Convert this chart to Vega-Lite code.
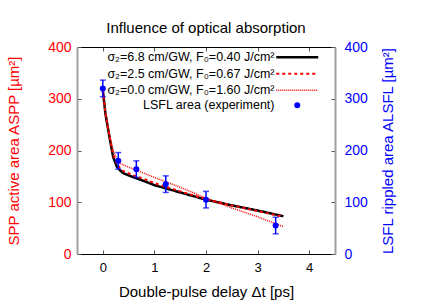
{
  "$schema": "https://vega.github.io/schema/vega-lite/v6.json",
  "width": 258,
  "height": 207,
  "autosize": "none",
  "padding": {"left": 77, "top": 47, "right": 101, "bottom": 51},
  "title": {"text": "Influence of optical absorption", "fontSize": 15, "fontWeight": "normal", "font": "Liberation Sans", "offset": 4, "color": "black"},
  "config": {
    "font": "Liberation Sans",
    "view": {"stroke": null},
    "axis": {"grid": false, "tickSize": -4, "tickColor": "#555", "titleFontWeight": "normal", "labelFont": "Liberation Sans", "titleFont": "Liberation Sans"},
    "legend": {"padding": 0}
  },
  "datasets": {
    "curves": [
      {"series": "σ₂=6.8 cm/GW, F₀=0.40 J/cm²", "x": 0, "y": 317},
      {"series": "σ₂=6.8 cm/GW, F₀=0.40 J/cm²", "x": 0.05, "y": 272},
      {"series": "σ₂=6.8 cm/GW, F₀=0.40 J/cm²", "x": 0.1, "y": 243},
      {"series": "σ₂=6.8 cm/GW, F₀=0.40 J/cm²", "x": 0.14, "y": 220},
      {"series": "σ₂=6.8 cm/GW, F₀=0.40 J/cm²", "x": 0.2, "y": 188},
      {"series": "σ₂=6.8 cm/GW, F₀=0.40 J/cm²", "x": 0.27, "y": 169},
      {"series": "σ₂=6.8 cm/GW, F₀=0.40 J/cm²", "x": 0.33, "y": 162},
      {"series": "σ₂=6.8 cm/GW, F₀=0.40 J/cm²", "x": 0.4, "y": 156},
      {"series": "σ₂=6.8 cm/GW, F₀=0.40 J/cm²", "x": 0.6, "y": 148},
      {"series": "σ₂=6.8 cm/GW, F₀=0.40 J/cm²", "x": 0.8, "y": 141},
      {"series": "σ₂=6.8 cm/GW, F₀=0.40 J/cm²", "x": 1.0, "y": 133},
      {"series": "σ₂=6.8 cm/GW, F₀=0.40 J/cm²", "x": 1.5, "y": 119},
      {"series": "σ₂=6.8 cm/GW, F₀=0.40 J/cm²", "x": 2.0, "y": 105},
      {"series": "σ₂=6.8 cm/GW, F₀=0.40 J/cm²", "x": 2.5, "y": 94},
      {"series": "σ₂=6.8 cm/GW, F₀=0.40 J/cm²", "x": 3.0, "y": 84},
      {"series": "σ₂=6.8 cm/GW, F₀=0.40 J/cm²", "x": 3.5, "y": 73},
      {"series": "σ₂=2.5 cm/GW, F₀=0.67 J/cm²", "x": 0, "y": 317},
      {"series": "σ₂=2.5 cm/GW, F₀=0.67 J/cm²", "x": 0.05, "y": 272},
      {"series": "σ₂=2.5 cm/GW, F₀=0.67 J/cm²", "x": 0.1, "y": 243},
      {"series": "σ₂=2.5 cm/GW, F₀=0.67 J/cm²", "x": 0.14, "y": 222},
      {"series": "σ₂=2.5 cm/GW, F₀=0.67 J/cm²", "x": 0.2, "y": 192},
      {"series": "σ₂=2.5 cm/GW, F₀=0.67 J/cm²", "x": 0.27, "y": 175},
      {"series": "σ₂=2.5 cm/GW, F₀=0.67 J/cm²", "x": 0.33, "y": 166},
      {"series": "σ₂=2.5 cm/GW, F₀=0.67 J/cm²", "x": 0.4, "y": 160},
      {"series": "σ₂=2.5 cm/GW, F₀=0.67 J/cm²", "x": 0.6, "y": 152},
      {"series": "σ₂=2.5 cm/GW, F₀=0.67 J/cm²", "x": 0.8, "y": 145},
      {"series": "σ₂=2.5 cm/GW, F₀=0.67 J/cm²", "x": 1.0, "y": 137},
      {"series": "σ₂=2.5 cm/GW, F₀=0.67 J/cm²", "x": 1.5, "y": 121},
      {"series": "σ₂=2.5 cm/GW, F₀=0.67 J/cm²", "x": 2.0, "y": 106},
      {"series": "σ₂=2.5 cm/GW, F₀=0.67 J/cm²", "x": 2.5, "y": 94},
      {"series": "σ₂=2.5 cm/GW, F₀=0.67 J/cm²", "x": 3.0, "y": 83},
      {"series": "σ₂=2.5 cm/GW, F₀=0.67 J/cm²", "x": 3.5, "y": 72},
      {"series": "σ₂=0.0 cm/GW, F₀=1.60 J/cm²", "x": 0, "y": 317},
      {"series": "σ₂=0.0 cm/GW, F₀=1.60 J/cm²", "x": 0.05, "y": 275},
      {"series": "σ₂=0.0 cm/GW, F₀=1.60 J/cm²", "x": 0.1, "y": 246},
      {"series": "σ₂=0.0 cm/GW, F₀=1.60 J/cm²", "x": 0.14, "y": 225},
      {"series": "σ₂=0.0 cm/GW, F₀=1.60 J/cm²", "x": 0.2, "y": 200},
      {"series": "σ₂=0.0 cm/GW, F₀=1.60 J/cm²", "x": 0.27, "y": 184},
      {"series": "σ₂=0.0 cm/GW, F₀=1.60 J/cm²", "x": 0.33, "y": 175},
      {"series": "σ₂=0.0 cm/GW, F₀=1.60 J/cm²", "x": 0.5, "y": 168},
      {"series": "σ₂=0.0 cm/GW, F₀=1.60 J/cm²", "x": 1.0, "y": 148},
      {"series": "σ₂=0.0 cm/GW, F₀=1.60 J/cm²", "x": 1.5, "y": 129},
      {"series": "σ₂=0.0 cm/GW, F₀=1.60 J/cm²", "x": 2.0, "y": 108},
      {"series": "σ₂=0.0 cm/GW, F₀=1.60 J/cm²", "x": 2.5, "y": 89},
      {"series": "σ₂=0.0 cm/GW, F₀=1.60 J/cm²", "x": 3.0, "y": 72},
      {"series": "σ₂=0.0 cm/GW, F₀=1.60 J/cm²", "x": 3.5, "y": 53}
    ],
    "experiment": [
      {"series": "LSFL area (experiment)", "x": 0.0, "y": 320, "err": 16},
      {"series": "LSFL area (experiment)", "x": 0.3, "y": 180, "err": 16},
      {"series": "LSFL area (experiment)", "x": 0.65, "y": 164, "err": 16},
      {"series": "LSFL area (experiment)", "x": 1.22, "y": 135, "err": 16},
      {"series": "LSFL area (experiment)", "x": 2.0, "y": 105, "err": 16},
      {"series": "LSFL area (experiment)", "x": 3.35, "y": 55, "err": 16}
    ]
  },
  "layer": [
    {
      "data": {"name": "curves"},
      "mark": {"type": "line", "clip": true},
      "encoding": {
        "x": {"field": "x", "type": "quantitative",
          "scale": {"domain": [-0.5, 4.5], "nice": false, "zero": false},
          "axis": {"orient": "bottom", "values": [0, 1, 2, 3, 4], "labelFontSize": 13, "labelColor": "black", "title": "Double-pulse delay Δt [ps]", "titleFontSize": 15, "titleColor": "black", "domainColor": "black", "domainWidth": 1, "labelPadding": 11, "titlePadding": 10}},
        "y": {"field": "y", "type": "quantitative",
          "scale": {"domain": [0, 400], "nice": false},
          "axis": {"orient": "left", "values": [0, 100, 200, 300, 400], "labelFontSize": 14, "labelColor": "#ff0000", "title": "SPP active area ASPP [µm²]", "titleFontSize": 15, "titleColor": "#ff0000", "domainColor": "#a0a0a0", "domainWidth": 2, "labelPadding": 10, "titlePadding": 26}},
        "color": {"field": "series", "type": "nominal",
          "scale": {"domain": ["σ₂=6.8 cm/GW, F₀=0.40 J/cm²", "σ₂=2.5 cm/GW, F₀=0.67 J/cm²", "σ₂=0.0 cm/GW, F₀=1.60 J/cm²"], "range": ["#000000", "#ff0000", "#ff0000"]},
          "legend": {"orient": "none", "legendX": 181, "legendY": 4, "title": null, "labelAlign": "right", "labelOffset": -29, "symbolOffset": 33, "symbolType": "M-6,0H6", "symbolSize": 49, "labelFontSize": 12.5, "labelFont": "Liberation Sans", "labelColor": "black", "labelLimit": 300, "rowPadding": 3.5}},
        "strokeDash": {"field": "series", "type": "nominal",
          "scale": {"domain": ["σ₂=6.8 cm/GW, F₀=0.40 J/cm²", "σ₂=2.5 cm/GW, F₀=0.67 J/cm²", "σ₂=0.0 cm/GW, F₀=1.60 J/cm²"], "range": [[1, 0], [3, 3], [1, 1]]}},
        "strokeWidth": {"field": "series", "type": "nominal",
          "scale": {"domain": ["σ₂=6.8 cm/GW, F₀=0.40 J/cm²", "σ₂=2.5 cm/GW, F₀=0.67 J/cm²", "σ₂=0.0 cm/GW, F₀=1.60 J/cm²"], "range": [2.5, 1.5, 1.5]}}
      }
    },
    {
      "data": {"name": "experiment"},
      "encoding": {
        "x": {"field": "x", "type": "quantitative",
          "scale": {"domain": [-0.5, 4.5], "nice": false, "zero": false},
          "axis": {"orient": "top", "values": [0, 1, 2, 3, 4], "labels": false, "title": null, "domainColor": "black", "domainWidth": 1}},
        "y": {"field": "y", "type": "quantitative",
          "scale": {"domain": [0, 400], "nice": false},
          "axis": {"orient": "right", "values": [0, 100, 200, 300, 400], "labelFontSize": 14, "labelColor": "#0000ff", "title": "LSFL rippled area ALSFL [µm²]", "titleFontSize": 15, "titleColor": "#0000ff", "titleAngle": 270, "titleBaseline": "top", "domainColor": "#a0a0a0", "domainWidth": 2, "labelPadding": 13, "titlePadding": 13}}
      },
      "layer": [
        {
          "mark": {"type": "errorbar", "color": "#0000ff", "thickness": 1.5, "ticks": {"size": 6, "color": "#0000ff", "thickness": 1.5}},
          "encoding": {"yError": {"field": "err"}}
        },
        {
          "mark": {"type": "point", "filled": true, "opacity": 1, "color": "#0000ff", "size": 36},
          "encoding": {
            "shape": {"field": "series", "type": "nominal",
              "scale": {"domain": ["LSFL area (experiment)"], "range": ["circle"]},
              "legend": {"orient": "none", "legendX": 182, "legendY": 52, "title": null, "labelAlign": "right", "labelOffset": -29, "symbolOffset": 32, "symbolSize": 36, "symbolFillColor": "#0000ff", "symbolStrokeColor": "#0000ff", "labelFontSize": 12.5, "labelFont": "Liberation Sans", "labelColor": "black", "labelLimit": 300}}
          }
        }
      ]
    }
  ],
  "resolve": {"scale": {"x": "independent", "y": "independent"}}
}
